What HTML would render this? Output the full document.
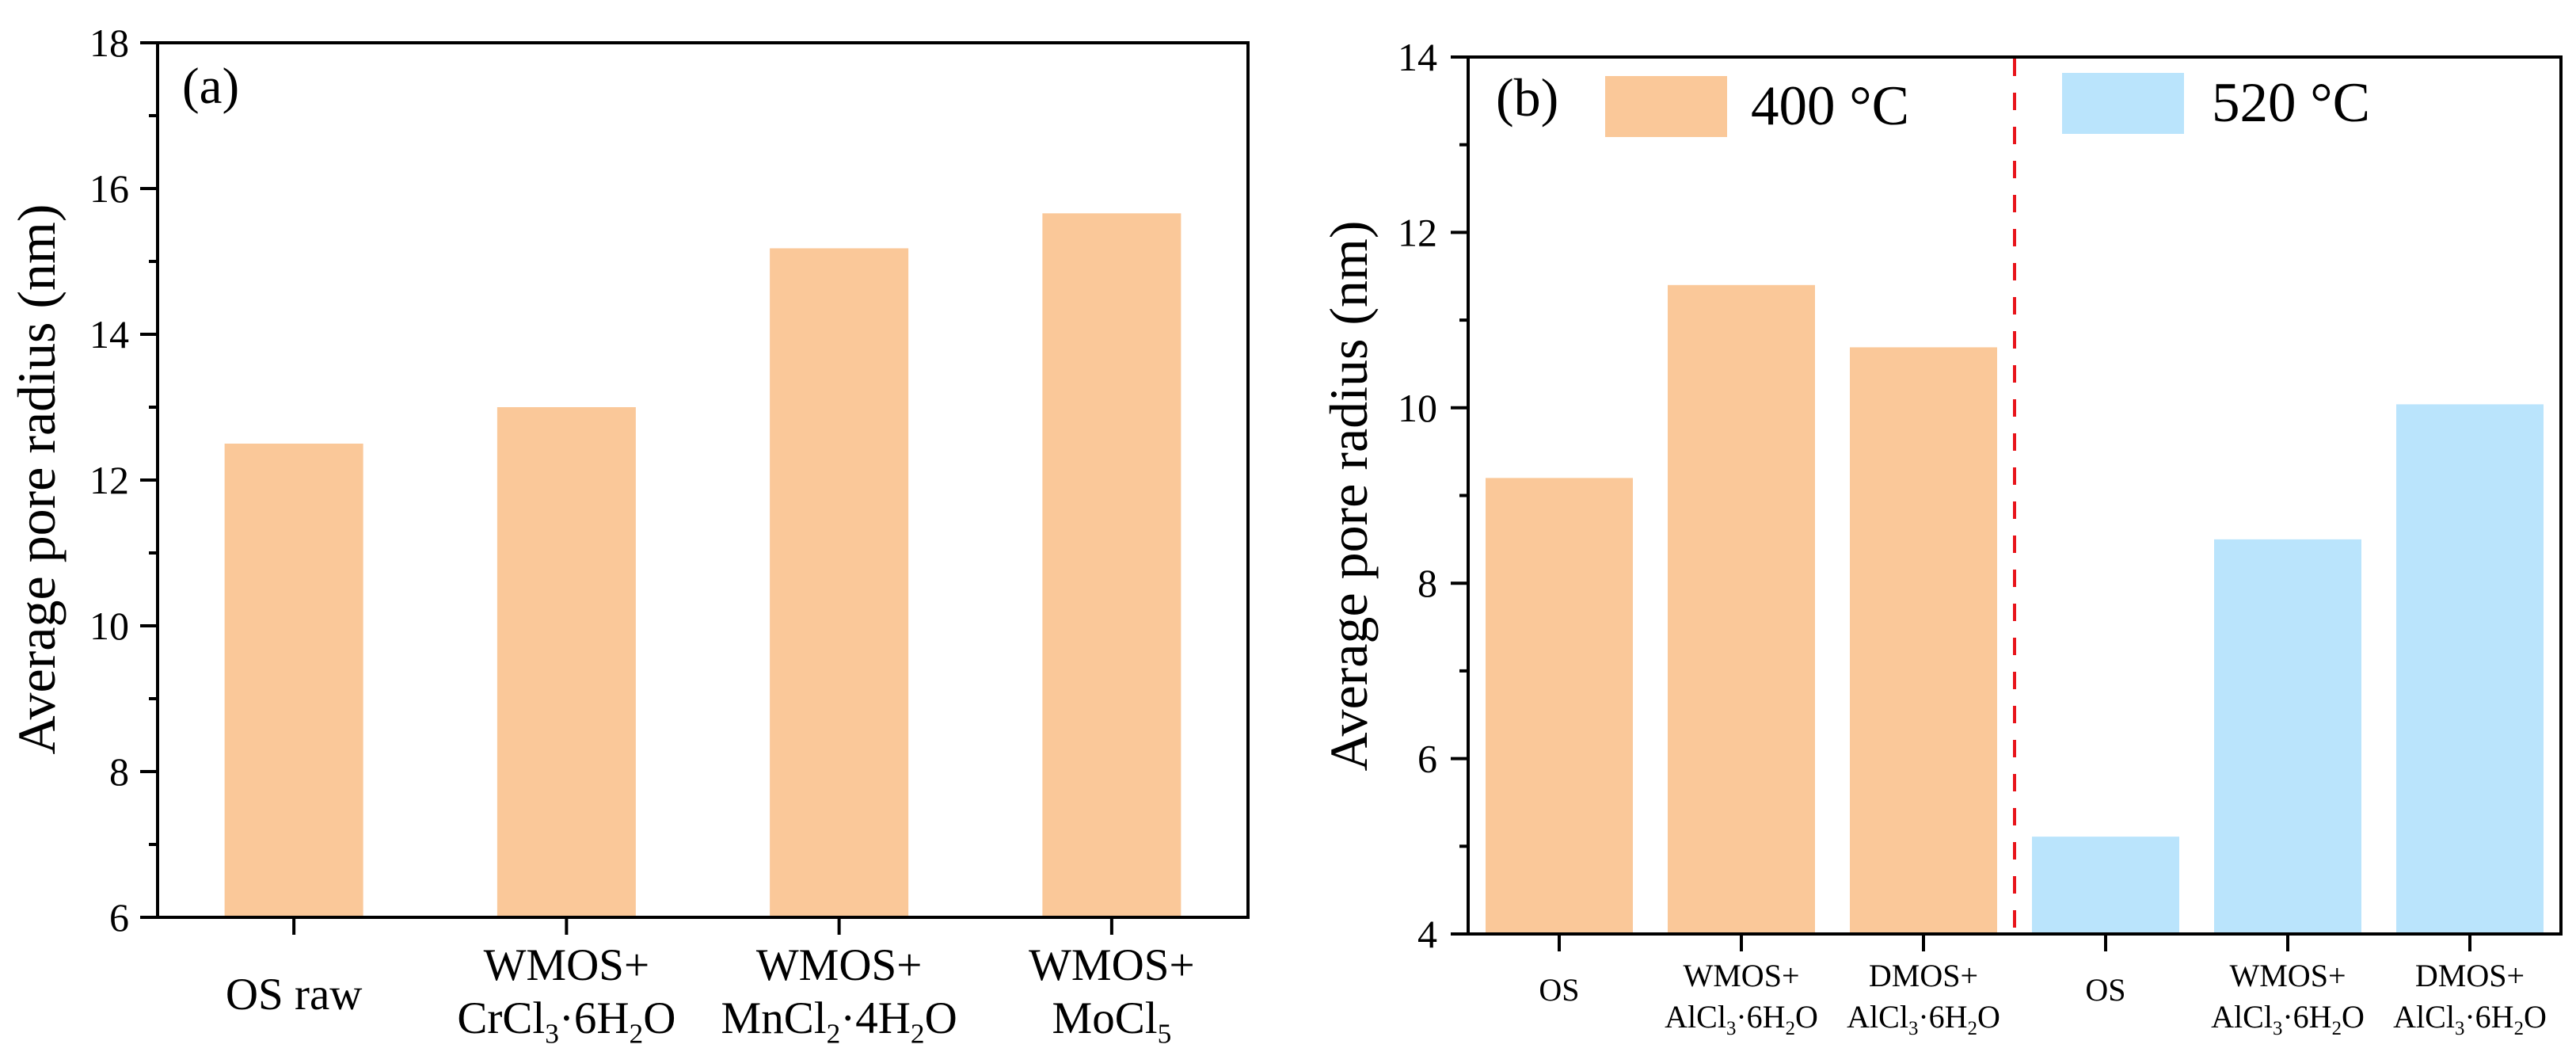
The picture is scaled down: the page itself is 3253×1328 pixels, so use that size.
<!DOCTYPE html>
<html><head><meta charset="utf-8"><style>
html,body{margin:0;padding:0;background:#fff;}
svg{display:block;}
svg text{font-family:"Liberation Serif","DejaVu Serif","Times New Roman",serif;}
</style></head><body>
<svg id="chart" width="3253" height="1328" viewBox="0 0 3253 1328" xmlns="http://www.w3.org/2000/svg">
<rect width="3253" height="1328" fill="#fff"/>
<g id="pa"></g>
<g id="pb"></g>
</svg>
<script>
// Panel (a) data
const catsA = ["OS raw", "WMOS+|CrCl_3·6H_2O", "WMOS+|MnCl_2·4H_2O", "WMOS+|MoCl_5"];
const valsA = [12.5, 13.0, 15.18, 15.66];
const ticksA = [6, 8, 10, 12, 14, 16, 18];
const minorA = [7, 9, 11, 13, 15, 17];
// Panel (b) data
const catsB = ["OS", "WMOS+|AlCl_3·6H_2O", "DMOS+|AlCl_3·6H_2O", "OS", "WMOS+|AlCl_3·6H_2O", "DMOS+|AlCl_3·6H_2O"];
const valsB = [9.2, 11.4, 10.69, 5.11, 8.5, 10.04];
const groupB = [0, 0, 0, 1, 1, 1];
const ticksB = [4, 6, 8, 10, 12, 14];
const minorB = [5, 7, 9, 11, 13];
const legendB = ["400 °C", "520 °C"];
const COLORS = ["#FAC899", "#BAE4FC"];

const NS = "http://www.w3.org/2000/svg";
const FONT = '"Liberation Serif", "DejaVu Serif", serif';
function mk(parent, tag, attrs) {
  const e = document.createElementNS(NS, tag);
  for (const k in attrs) e.setAttribute(k, attrs[k]);
  parent.appendChild(e);
  return e;
}
function richText(parent, str, x, y, fs, anchor) {
  const t = mk(parent, "text", {x: x, y: y, "font-size": fs, "text-anchor": anchor, fill: "#000", "font-family": FONT});
  // split into segments
  const segs = [];
  let buf = "";
  for (let i = 0; i < str.length; i++) {
    if (str[i] === "_") {
      if (buf) segs.push({t: buf, sub: false});
      buf = "";
      segs.push({t: str[i + 1], sub: true});
      i++;
    } else buf += str[i];
  }
  if (buf) segs.push({t: buf, sub: false});
  let down = false;
  segs.forEach(s => {
    const a = {};
    if (s.sub) { a.dy = fs * 0.22; a["font-size"] = fs * 0.62; down = true; }
    else if (down) { a.dy = -fs * 0.22; down = false; }
    const sp = mk(t, "tspan", a);
    sp.textContent = s.t;
  });
  return t;
}

function panel(g, o) {
  const yS = v => o.Y1 - (v - o.vmin) / (o.vmax - o.vmin) * (o.Y1 - o.Y0);
  const step = (o.X1 - o.X0) / o.cats.length;
  const xS = i => o.X0 + step * (i + 0.5);
  o.vals.forEach((v, i) => {
    const r = mk(g, "rect", {x: xS(i) - o.bw / 2, y: yS(v), width: o.bw, height: o.Y1 - yS(v), fill: COLORS[o.groups ? o.groups[i] : 0]});
    
    
  });
  const f = mk(g, "rect", {x: o.X0, y: o.Y0, width: o.X1 - o.X0, height: o.Y1 - o.Y0, fill: "none", stroke: "#000", "stroke-width": 4});
  
  
  o.ticks.forEach(v => {
    const y = yS(v);
    const l = mk(g, "line", {x1: o.X0 - 22, x2: o.X0, y1: y, y2: y, stroke: "#000", "stroke-width": 4});
    
    
    const t = mk(g, "text", {x: o.tx, y: y + 17, "font-size": 50, "text-anchor": "end", fill: "#000", "font-family": FONT});
    t.textContent = v;
    
    
  });
  o.minor.forEach(v => {
    const y = yS(v);
    const l = mk(g, "line", {x1: o.X0 - 11, x2: o.X0, y1: y, y2: y, stroke: "#000", "stroke-width": 4});
    
    
  });
  o.cats.forEach((c, i) => {
    const x = xS(i);
    const l = mk(g, "line", {x1: x, x2: x, y1: o.Y1, y2: o.Y1 + 22, stroke: "#000", "stroke-width": 4});
    
    
    const parts = c.split("|");
    let t;
    if (parts.length === 1) {
      t = richText(g, parts[0], x, o.single, o.xfs, "middle");
      
      
    } else {
      t = richText(g, parts[0], x, o.line1, o.xfs, "middle");
      
      
      t = richText(g, parts[1], x, o.line2, o.xfs, "middle");
      
      
    }
  });
  const yt = mk(g, "text", {x: 0, y: 0, "font-size": 68, "text-anchor": "middle", transform: "translate(" + o.ytx + "," + o.yty + ") rotate(-90)", fill: "#000", textLength: 695, lengthAdjust: "spacingAndGlyphs", "font-family": FONT});
  yt.textContent = "Average pore radius (nm)";
  
  
  const pl = mk(g, "text", {x: o.lx, y: o.ly, "font-size": o.lfs, fill: "#000", "font-family": FONT});
  pl.textContent = o.letter;
  
  
  return {xS, yS, step};
}

const pa = document.getElementById("pa");
panel(pa, {X0: 199, X1: 1576, Y0: 54, Y1: 1158, vmin: 6, vmax: 18, cats: catsA, vals: valsA, bw: 175,
  ticks: ticksA, minor: minorA, tx: 163, xfs: 57, single: 1274, line1: 1237, line2: 1304,
  ytx: 69, yty: 605, lx: 230, ly: 130, lfs: 65, letter: "(a)"});

const pb = document.getElementById("pb");
const B = panel(pb, {X0: 1854, X1: 3234, Y0: 72, Y1: 1179, vmin: 4, vmax: 14, cats: catsB, vals: valsB, groups: groupB, bw: 186,
  ticks: ticksB, minor: minorB, tx: 1815, xfs: 40, single: 1263, line1: 1245, line2: 1297,
  ytx: 1726, yty: 626, lx: 1889, ly: 146, lfs: 68, letter: "(b)"});

const sx = 1854 + B.step * 3;
const sep = mk(pb, "line", {x1: sx, x2: sx, y1: 74, y2: 1177, stroke: "#E8141B", "stroke-width": 4, "stroke-dasharray": "22 21"});



const legX = [2027, 2604];
const legTX = [2211, 2793];
const legY = [96, 92];
legendB.forEach((lab, i) => {
  const r = mk(pb, "rect", {x: legX[i], y: legY[i], width: 154, height: 77, fill: COLORS[i]});
  
  
  const t = mk(pb, "text", {x: legTX[i], y: legY[i] + 61, "font-size": 71, fill: "#000", "font-family": FONT});
  t.textContent = lab;
  
  
});
</script>
</body></html>
